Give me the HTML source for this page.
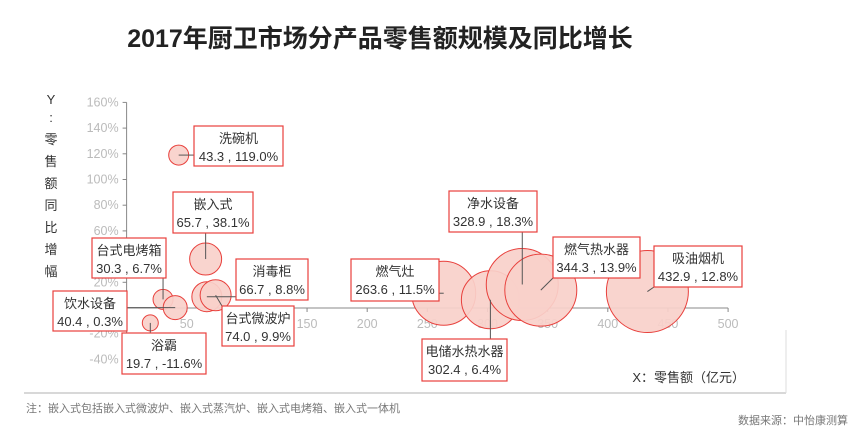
<!DOCTYPE html>
<html><head><meta charset="utf-8">
<style>
body{margin:0;background:#fff;width:856px;height:438px;overflow:hidden;font-family:"Liberation Sans","Noto Sans CJK SC",sans-serif;}
svg text{font-family:"Liberation Sans","Noto Sans CJK SC",sans-serif;}
</style></head>
<body>
<svg id="chart" width="856" height="438" xmlns="http://www.w3.org/2000/svg">
<line x1="24" y1="393" x2="786" y2="393" stroke="#ccc" stroke-width="1.5"/>
<line x1="786" y1="330" x2="786" y2="393" stroke="#ddd" stroke-width="1"/>
<text x="380" y="47" text-anchor="middle" font-size="25" font-weight="bold" fill="#222">2017年厨卫市场分产品零售额规模及同比增长</text>
<g id="axes"></g>
<g id="bubbles"></g>
<g id="labels"></g>
<text x="745" y="382" text-anchor="end" font-size="13" fill="#333">X：零售额（亿元）</text>
<g font-size="13" fill="#333" text-anchor="middle">
<text x="51" y="104">Y</text><text x="51" y="122">:</text>
<text x="51" y="144">零</text><text x="51" y="166">售</text><text x="51" y="188">额</text><text x="51" y="210">同</text><text x="51" y="232">比</text><text x="51" y="254">增</text><text x="51" y="276">幅</text>
</g>
<text x="26" y="412" font-size="11" fill="#777" font-family="Liberation Serif,Noto Serif CJK SC,serif">注：嵌入式包括嵌入式微波炉、嵌入式蒸汽炉、嵌入式电烤箱、嵌入式一体机</text>
<text x="848" y="424" text-anchor="end" font-size="11" fill="#777" font-family="Liberation Serif,Noto Serif CJK SC,serif">数据来源：中怡康测算</text>
</svg>
<script>
const categories=["洗碗机","嵌入式","台式电烤箱","消毒柜","饮水设备","台式微波炉","浴霸","燃气灶","电储水热水器","净水设备","燃气热水器","吸油烟机"];
const salesValues=[43.3,65.7,30.3,66.7,40.4,74.0,19.7,263.6,302.4,328.9,344.3,432.9];
const growthValues=[119.0,38.1,6.7,8.8,0.3,9.9,-11.6,11.5,6.4,18.3,13.9,12.8];
const bubbleSizes=[10,16,10,15,12,15.5,8,32,29,36,36,41];
const xTicks=[0,50,100,150,200,250,300,350,400,450,500];
const yTicks=[-40,-20,0,20,40,60,80,100,120,140,160];
// label box layout: [x,y,w,h]
const boxes=[[194,126,89,40],[173,192,80,41],[92,238,74,40],[236,259,72,41],[53,291,74,40],[222,306,72,40],[122,333,84,41],[351,259,88,42],[422,339,85,42],[449,191,88,41],[553,237,87,41],[654,246,88,41]];
const NS="http://www.w3.org/2000/svg";
const x0=126.6,xs=1.203,y0=308,ys=1.285;
const X=v=>x0+v*xs, Y=v=>y0-v*ys;
function mk(t,a,p){const e=document.createElementNS(NS,t);for(const k in a)e.setAttribute(k,a[k]);p.appendChild(e);return e;}
const ax=document.getElementById('axes');
let l=mk('line',{x1:X(0),y1:Y(160),x2:X(0),y2:Y(-40),stroke:'#888','stroke-width':1},ax);


l=mk('line',{x1:X(0),y1:Y(0),x2:X(500),y2:Y(0),stroke:'#888','stroke-width':1},ax);


yTicks.forEach(v=>{const t=mk('text',{x:X(0)-8,y:Y(v)+4,'text-anchor':'end','font-size':12.5,fill:'#bbb'},ax);t.textContent=v+'%';


mk('line',{x1:X(0)-4,y1:Y(v),x2:X(0),y2:Y(v),stroke:'#888'},ax);});
xTicks.forEach(v=>{mk('line',{x1:X(v),y1:Y(0),x2:X(v),y2:Y(0)+4,stroke:'#888'},ax);
if(v===0)return;const t=mk('text',{x:X(v),y:Y(0)+20,'text-anchor':'middle','font-size':12.5,fill:'#bbb'},ax);t.textContent=v;

});
const bg=document.getElementById('bubbles'),lg=document.getElementById('labels');
categories.forEach((c,i)=>{
 const cx=X(salesValues[i]),cy=Y(growthValues[i]);
 const b=mk('circle',{cx:cx,cy:cy,r:bubbleSizes[i],fill:'#f8d0ca','fill-opacity':0.92,stroke:'#e8403c','stroke-width':1},bg);
 
 
 const [bx,by,bw,bh]=boxes[i];
 const tx=Math.max(bx,Math.min(bx+bw,cx)),ty=Math.max(by,Math.min(by+bh,cy));
 const ln=mk('line',{x1:cx,y1:cy,x2:tx,y2:ty,stroke:'#555','stroke-width':1},lg);
 
 
 const r=mk('rect',{x:bx,y:by,width:bw,height:bh,fill:'#fff',stroke:'#e8403c','stroke-width':1.2},lg);
 
 
 const t1=mk('text',{x:bx+bw/2,y:by+17,'text-anchor':'middle','font-size':13,fill:'#333'},lg);t1.textContent=c;
 
 
 const t2=mk('text',{x:bx+bw/2,y:by+35,'text-anchor':'middle','font-size':13,fill:'#333'},lg);
 t2.textContent=salesValues[i].toFixed(1)+' , '+growthValues[i].toFixed(1)+'%';
 
 
});
</script>
</body></html>
